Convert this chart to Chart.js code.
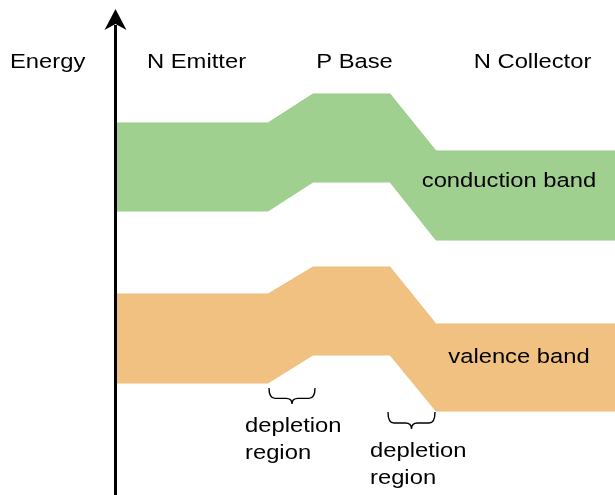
<!DOCTYPE html>
<html>
<head>
<meta charset="utf-8">
<script src="https://cdn.jsdelivr.net/npm/chart.js@4/dist/chart.umd.min.js"></script>
<style>
html,body{margin:0;padding:0;background:#fff;}
canvas{display:block;}
</style>
</head>
<body>
<canvas id="c" width="615" height="495"></canvas>
<script>
// Positions along the device (arbitrary units): emitter | depletion | base | depletion | collector
const positions = [0, 151, 196, 273, 319, 498];
// Band edge energies (arbitrary units)
const conductionTop    = [372, 372, 401, 401, 344, 344];
const conductionBottom = [284, 284, 313, 313, 255, 255];
const valenceTop       = [201, 201, 228, 228, 171, 171];
const valenceBottom    = [112, 112, 140, 140, 84, 84];
const regionLabels = ["N Emitter", "P Base", "N Collector"];
const bandLabels = ["conduction band", "valence band"];

const GREEN = 'rgb(160,208,144)';
const GREEN_EDGE = 'rgb(148,203,132)';
const ORANGE = 'rgb(240,193,128)';
const ORANGE_EDGE = 'rgb(238,189,122)';

function pts(ys){ return positions.map((x,i)=>({x:x, y:ys[i]})); }
function band(ys, color, edge, fill){
  return {data: pts(ys), borderColor: edge, backgroundColor: color, borderWidth: 1,
          pointRadius: 0, tension: 0, fill: fill};
}
// faint vertical seams inside the conduction band at region boundaries
const seams = [1,2,3,4].map(i => ({
  data: [{x: positions[i], y: conductionBottom[i]}, {x: positions[i], y: conductionTop[i]}],
  borderColor: 'rgba(140,200,125,0.8)', borderWidth: 1, pointRadius: 0, fill: false
}));

const overlay = {
  id: 'overlay',
  afterDraw(chart){
    const ctx = chart.ctx, xs = chart.scales.x, ys = chart.scales.y, ca = chart.chartArea;
    ctx.save();
    // energy axis arrow
    const ax = ca.left - 1.5;
    ctx.strokeStyle = '#000'; ctx.fillStyle = '#000'; ctx.lineWidth = 3;
    ctx.beginPath(); ctx.moveTo(ax, 495); ctx.lineTo(ax, 25); ctx.stroke();
    ctx.beginPath();
    ctx.moveTo(ax, 9); ctx.lineTo(ax + 11, 30); ctx.lineTo(ax, 24); ctx.lineTo(ax - 11, 30);
    ctx.closePath(); ctx.fill();

    // text (stretched horizontally like the reference)
    const SX = 1.16;
    function txt(s, x, y, align){
      ctx.save();
      ctx.font = '20.5px "Liberation Sans", Arial, sans-serif';
      ctx.fillStyle = '#000';
      ctx.textBaseline = 'alphabetic';
      ctx.textAlign = align || 'center';
      ctx.translate(x, y); ctx.scale(SX, 1);
      ctx.fillText(s, 0, 0);
      ctx.restore();
    }
    txt('Energy', 10, 68, 'left');
    const centers = [(positions[0]+positions[1])/2 + 4, (positions[2]+positions[3])/2 + 3, (positions[4]+positions[5])/2 + 7];
    regionLabels.forEach((s,i)=> txt(s, xs.getPixelForValue(centers[i]), 68));
    txt(bandLabels[0], 509, ys.getPixelForValue(308));
    txt(bandLabels[1], 519, ys.getPixelForValue(132));
    // depletion region labels
    const d1 = xs.getPixelForValue(positions[1]) - 23, d2 = xs.getPixelForValue(positions[3]) - 20;
    txt('depletion', d1, 432, 'left'); txt('region', d1, 459, 'left');
    txt('depletion', d2, 457, 'left'); txt('region', d2, 484, 'left');

    // underbraces
    function brace(x1, x2, yTop, h){
      const xc = (x1+x2)/2, yMid = yTop + h*0.65, yBot = yTop + h, r = 6;
      ctx.beginPath();
      ctx.lineWidth = 1.4; ctx.strokeStyle = '#000';
      ctx.moveTo(x1, yTop);
      ctx.quadraticCurveTo(x1, yMid, x1 + r, yMid);
      ctx.lineTo(xc - r, yMid);
      ctx.quadraticCurveTo(xc, yMid, xc, yBot);
      ctx.quadraticCurveTo(xc, yMid, xc + r, yMid);
      ctx.lineTo(x2 - r, yMid);
      ctx.quadraticCurveTo(x2, yMid, x2, yTop);
      ctx.stroke();
    }
    brace(xs.getPixelForValue(positions[1]) + 1, xs.getPixelForValue(positions[2]) + 2, 388, 16);
    brace(xs.getPixelForValue(positions[3]) - 2, xs.getPixelForValue(positions[4]) - 1, 412, 17);
    ctx.restore();
  }
};

new Chart(document.getElementById('c'), {
  type: 'line',
  data: {
    datasets: [
      band(conductionTop, GREEN, GREEN_EDGE, '+1'),
      band(conductionBottom, GREEN, GREEN_EDGE, false),
      band(valenceTop, ORANGE, ORANGE_EDGE, '+1'),
      band(valenceBottom, ORANGE, ORANGE_EDGE, false),
      ...seams
    ]
  },
  options: {
    responsive: false,
    devicePixelRatio: 1,
    animation: false,
    layout: {padding: {left: 117, right: 0, top: 0, bottom: 0}},
    plugins: {legend: {display: false}, tooltip: {enabled: false}},
    scales: {
      x: {type: 'linear', min: 0, max: 498, display: false},
      y: {type: 'linear', min: 0, max: 495, display: false}
    }
  },
  plugins: [overlay]
});
</script>
</body>
</html>
